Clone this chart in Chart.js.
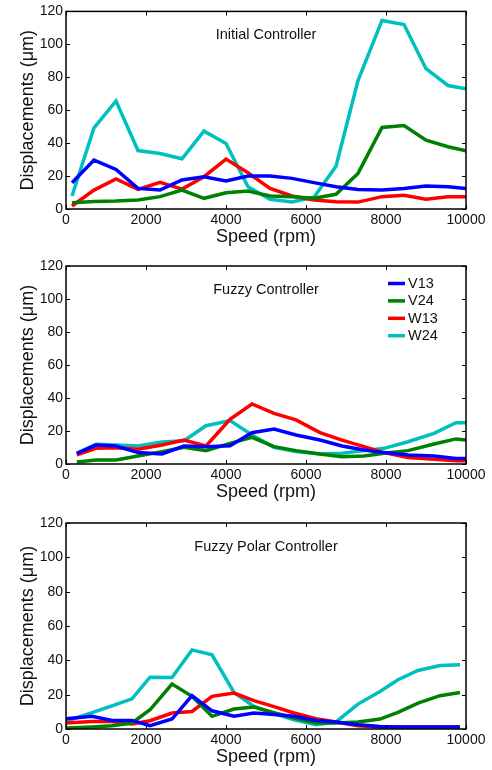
<!DOCTYPE html>
<html>
<head>
<meta charset="utf-8">
<script src="https://cdn.jsdelivr.net/npm/chart.js@4.4.1/dist/chart.umd.min.js"></script>
<style>
  html, body { margin: 0; padding: 0; background: #fff; }
  .panel { position: absolute; left: 0; width: 492px; }
</style>
</head>
<body>
<div class="panel" style="top:0"><canvas id="c1" width="492" height="250"></canvas></div>
<div class="panel" style="top:250px"><canvas id="c2" width="492" height="255"></canvas></div>
<div class="panel" style="top:505px"><canvas id="c3" width="492" height="265"></canvas></div>
<script>
// axis ticks
const xTicks = [0, 2000, 4000, 6000, 8000, 10000];
const yTicks = [0, 20, 40, 60, 80, 100, 120];

const seriesNames = ['V13', 'V24', 'W13', 'W24'];
const seriesColors = ['#0000ff', '#008000', '#ff0000', '#00bfbf'];

// Initial Controller
const speed1 = [150, 700, 1250, 1800, 2350, 2900, 3450, 4000, 4550, 5100, 5650, 6200, 6750, 7300, 7900, 8450, 9000, 9550, 10000];
const v13_1 = [16, 29.7, 24, 12.5, 11.5, 17.6, 19.6, 17, 20, 20, 18.6, 16, 13.5, 11.9, 11.5, 12.5, 14, 13.5, 12.5];
const v24_1 = [3.8, 4.6, 4.8, 5.5, 7.5, 11.5, 6.5, 9.9, 10.9, 7.9, 7.5, 6.5, 8.9, 21.6, 49.5, 50.7, 41.8, 37.8, 35.3];
const w13_1 = [1.8, 11.5, 18.2, 11.9, 16.2, 12.1, 19.6, 30.3, 22, 12.5, 7.9, 5.5, 4.4, 4.2, 7.5, 8.3, 6, 7.5, 7.5];
const w24_1 = [7.9, 49.3, 65.6, 35.5, 33.7, 30.5, 47.3, 39.8, 13.5, 5.9, 4.2, 7.1, 26, 78, 114.5, 112, 85.2, 75, 73];

// Fuzzy Controller
const speed2 = [270, 750, 1250, 1800, 2400, 2950, 3500, 4100, 4650, 5200, 5750, 6350, 6900, 7450, 7950, 8550, 9200, 9750, 10000];
const v13_2 = [6.5, 11.5, 10.9, 6.9, 6.1, 10.9, 10.5, 11.1, 19, 21.2, 17.6, 14.5, 10.9, 8.5, 6.9, 5.5, 4.8, 3.4, 3.4];
const v24_2 = [1.2, 2.4, 2.4, 4.8, 7.5, 10.1, 8.1, 12.5, 16.2, 10.5, 8.1, 6.1, 4.4, 4.8, 6.5, 8.1, 12.1, 15.2, 14.5];
const w13_2 = [5.5, 9.5, 9.9, 8.9, 11.5, 14.5, 10.9, 27.1, 36.4, 30.7, 26.7, 19, 14.5, 10.5, 6.9, 4.0, 2.8, 2.0, 2.0];
const w24_2 = [6.5, 11.9, 11.5, 10.9, 13.3, 14.1, 23.2, 26.3, 17.6, 10.1, 7.5, 6.1, 6.5, 8.1, 9.5, 13.5, 18.6, 25, 25];

// Fuzzy Polar Controller
const speed3 = [0, 650, 1150, 1650, 2100, 2650, 3150, 3650, 4200, 4700, 5200, 5700, 6250, 6750, 7300, 7850, 8300, 8800, 9350, 9850];
const v13_3 = [6, 7.4, 5, 5, 1.9, 5.8, 19.4, 10.6, 7.4, 9.3, 8.5, 7.4, 5, 4.1, 2.5, 1.5, 1.2, 1.2, 1.2, 1.2];
const v24_3 = [0.6, 1.2, 1.9, 3.5, 11.2, 26.2, 19, 7.4, 11.6, 12.8, 9.5, 6.4, 3.5, 3.5, 4.1, 5.8, 9.7, 15.1, 19.4, 21.3];
const w13_3 = [3.5, 4.4, 4.4, 2.9, 4.8, 9.3, 10.2, 19, 20.9, 16.5, 13, 9.3, 6, 4.1, 1.9, 1.2, 1.2, 1.2, 1.2, 1.2];
const w24_3 = [4.4, 9.5, 13.5, 17.6, 30.2, 30, 46.1, 43.2, 21.3, 13.1, 9, 5.4, 2.5, 4.1, 14.5, 21.9, 28.7, 34.1, 37, 37.4];

const FONT = '"Liberation Sans", Arial, sans-serif';

// box, inward ticks, panel title and legend
const frame = {
  id: 'frame',
  afterDatasetsDraw(chart, args, opts) {
    const {ctx, chartArea: a, scales: {x, y}} = chart;
    ctx.save();
    ctx.strokeStyle = '#000';
    ctx.lineWidth = 1.5;
    ctx.strokeRect(a.left, a.top, a.width, a.height);
    ctx.lineWidth = 1;
    ctx.beginPath();
    xTicks.forEach(v => {
      const px = Math.round(x.getPixelForValue(v)) + 0.5;
      ctx.moveTo(px, a.bottom); ctx.lineTo(px, a.bottom - 4);
      ctx.moveTo(px, a.top); ctx.lineTo(px, a.top + 4);
    });
    yTicks.forEach(v => {
      const py = Math.round(y.getPixelForValue(v)) + 0.5;
      ctx.moveTo(a.left, py); ctx.lineTo(a.left + 4, py);
      ctx.moveTo(a.right, py); ctx.lineTo(a.right - 4, py);
    });
    ctx.stroke();

    ctx.fillStyle = '#111';
    ctx.font = '14.5px ' + FONT;
    ctx.textBaseline = 'middle';
    ctx.textAlign = 'center';
    ctx.fillText(opts.title, (a.left + a.right) / 2, a.top + 24);

    if (opts.legend) {
      ctx.textAlign = 'left';
      chart.data.datasets.forEach((ds, i) => {
        const ly = a.top + 17.5 + i * 17.4;
        ctx.strokeStyle = ds.borderColor;
        ctx.lineWidth = 3.5;
        ctx.beginPath();
        ctx.moveTo(a.left + 322, ly);
        ctx.lineTo(a.left + 339, ly);
        ctx.stroke();
        ctx.fillText(ds.label, a.left + 342, ly + 0.5);
      });
    }
    ctx.restore();
  }
};

function makeChart(id, title, padTop, speed, series, legend) {
  new Chart(document.getElementById(id), {
    type: 'line',
    data: {
      datasets: series.map((vals, i) => ({
        label: seriesNames[i],
        data: speed.map((s, j) => ({x: s, y: vals[j]})),
        borderColor: seriesColors[i],
        borderWidth: 3.5,
        pointRadius: 0,
        tension: 0,
        fill: false
      }))
    },
    options: {
      responsive: false,
      animation: false,
      layout: { padding: { top: padTop, right: 26, left: 0, bottom: 0 } },
      plugins: {
        legend: { display: false },
        tooltip: { enabled: false },
        frame: { title: title, legend: legend }
      },
      scales: {
        x: {
          type: 'linear',
          min: 0,
          max: 10000,
          afterBuildTicks: s => { s.ticks = xTicks.map(v => ({value: v})); },
          afterFit: s => { s.height = 41; },
          grid: { display: false, drawTicks: false },
          border: { display: false },
          ticks: { color: '#111', font: { size: 14, family: FONT }, padding: 3, maxRotation: 0, autoSkip: false,
                   callback: v => String(v) },
          title: { display: true, text: 'Speed (rpm)', color: '#111', font: { size: 18, family: FONT }, padding: { top: 0, bottom: 2 } }
        },
        y: {
          min: 0,
          max: 120,
          afterBuildTicks: s => { s.ticks = yTicks.map(v => ({value: v})); },
          afterFit: s => { s.width = 66; },
          grid: { display: false, drawTicks: false },
          border: { display: false },
          ticks: { color: '#111', font: { size: 14, family: FONT }, padding: 3, callback: v => String(v) },
          title: { display: true, text: 'Displacements (μm)', color: '#111', font: { size: 18, family: FONT }, padding: { top: 17, bottom: 0 } }
        }
      }
    },
    plugins: [frame]
  });
}

makeChart('c1', 'Initial Controller', 11, speed1, [v13_1, v24_1, w13_1, w24_1], false);
makeChart('c2', 'Fuzzy Controller', 16, speed2, [v13_2, v24_2, w13_2, w24_2], true);
makeChart('c3', 'Fuzzy Polar Controller', 18, speed3, [v13_3, v24_3, w13_3, w24_3], false);
</script>
</body>
</html>
